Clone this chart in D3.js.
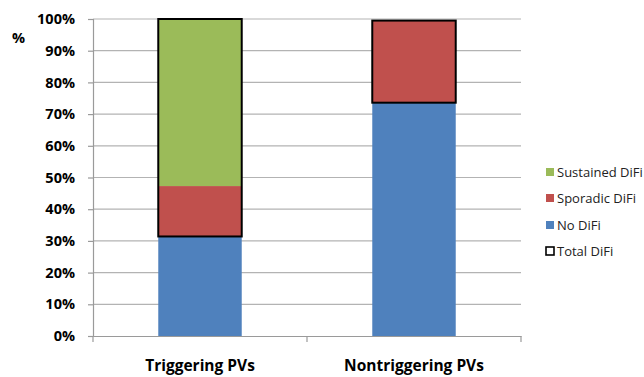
<!DOCTYPE html>
<html>
<head>
<meta charset="utf-8">
<script src="https://cdn.jsdelivr.net/npm/d3@7/dist/d3.min.js"></script>
<style>
  html, body { margin: 0; padding: 0; background: #fff; }
  svg { display: block; }
</style>
</head>
<body>
<svg id="chart" width="644" height="377"></svg>
<script>
// Share of pulmonary veins by DiFi pattern (percent)
const categories = ["Triggering PVs", "Nontriggering PVs"];
const noDifi = [31.4, 73.6];
const sporadicDifi = [15.9, 25.9];
const sustainedDifi = [52.7, 0];
const yTicks = [0, 10, 20, 30, 40, 50, 60, 70, 80, 90, 100];
const legendLabels = ["Sustained DiFi", "Sporadic DiFi", "No DiFi", "Total DiFi"];

const colors = { no: "#4F81BD", sporadic: "#C0504D", sustained: "#9BBB59" };

const svg = d3.select("#chart");
const margin = { left: 93, right: 123, top: 19, bottom: 41 };
const W = 644, H = 377;

const x = d3.scaleBand().domain(categories)
  .range([margin.left, W - margin.right]).paddingInner(0).paddingOuter(0);
const y = d3.scaleLinear().domain([0, 100]).range([H - margin.bottom, margin.top]);

// Gridlines
svg.append("g").selectAll("line").data(yTicks.slice(1)).join("line")
  .attr("x1", margin.left).attr("x2", W - margin.right)
  .attr("y1", d => y(d)).attr("y2", d => y(d))
  .attr("stroke", "#b3b3b3").attr("stroke-width", 1.2);

// Y axis
const yAxis = d3.axisLeft(y).tickValues(yTicks).tickSize(5).tickPadding(13)
  .tickFormat(d => d + "%");
const gy = svg.append("g").attr("transform", `translate(${margin.left},0)`).call(yAxis);
gy.select(".domain").attr("stroke", "#9a9a9a").attr("stroke-width", 1.2);
gy.selectAll(".tick line").attr("stroke", "#9a9a9a").attr("stroke-width", 1.2);
gy.selectAll(".tick text")
  .attr("font-family", "'Open Sans', sans-serif").attr("font-weight", "bold")
  .attr("font-size", 14.5).attr("fill", "#000");

// X axis
const gx = svg.append("g").attr("transform", `translate(0,${y(0)})`)
  .call(d3.axisBottom(x).tickSize(0).tickPadding(24));
gx.select(".domain").attr("stroke", "#9a9a9a").attr("stroke-width", 1.2);
gx.selectAll(".tick text")
  .attr("font-family", "'Open Sans', sans-serif").attr("font-weight", "bold")
  .attr("font-size", 15.5).attr("fill", "#000");
// Category boundary ticks
const bounds = [margin.left, margin.left + x.bandwidth(), margin.left + 2 * x.bandwidth()];
gx.append("g").selectAll("line").data(bounds).join("line")
  .attr("x1", d => d).attr("x2", d => d).attr("y1", 0).attr("y2", 6)
  .attr("stroke", "#9a9a9a").attr("stroke-width", 1.2);

// Stacked bars
const rows = categories.map((c, i) => ({
  cat: c, no: noDifi[i], sporadic: sporadicDifi[i], sustained: sustainedDifi[i]
}));
const stack = d3.stack().keys(["no", "sporadic", "sustained"]);
const series = stack(rows);
const barW = x.bandwidth() * 0.39;
const barX = c => x(c) + (x.bandwidth() - barW) / 2;

svg.append("g").selectAll("g").data(series).join("g")
  .attr("fill", s => colors[s.key])
  .selectAll("rect").data(s => s).join("rect")
  .attr("x", d => barX(d.data.cat)).attr("width", barW)
  .attr("y", d => y(d[1])).attr("height", d => y(d[0]) - y(d[1]));

// Total DiFi outline (sporadic + sustained)
svg.append("g").selectAll("rect").data(rows).join("rect")
  .attr("x", d => barX(d.cat)).attr("width", barW)
  .attr("y", d => y(d.no + d.sporadic + d.sustained))
  .attr("height", d => y(d.no) - y(d.no + d.sporadic + d.sustained))
  .attr("fill", "none").attr("stroke", "#000").attr("stroke-width", 2);

// Axis unit label
svg.append("text").attr("x", 12).attr("y", 43).text("%")
  .attr("font-family", "'Open Sans', sans-serif").attr("font-weight", "bold")
  .attr("font-size", 14.5).attr("fill", "#000");

// Legend
const legY = [172, 198, 225, 251];
const legFill = [colors.sustained, colors.sporadic, colors.no, "#fff"];
const leg = svg.append("g").selectAll("g").data(legendLabels).join("g")
  .attr("transform", (d, i) => `translate(546,${legY[i]})`);
leg.append("rect").attr("x", 0).attr("y", -4).attr("width", 8).attr("height", 8)
  .attr("fill", (d, i) => legFill[i])
  .attr("stroke", (d, i) => i === 3 ? "#000" : "none")
  .attr("stroke-width", (d, i) => i === 3 ? 1.6 : 0);
leg.append("text").attr("x", 11).attr("y", 0).attr("dy", "0.35em").text(d => d)
  .attr("font-family", "'Open Sans', sans-serif").attr("font-size", 13)
  .attr("fill", "#222");
</script>
</body>
</html>
